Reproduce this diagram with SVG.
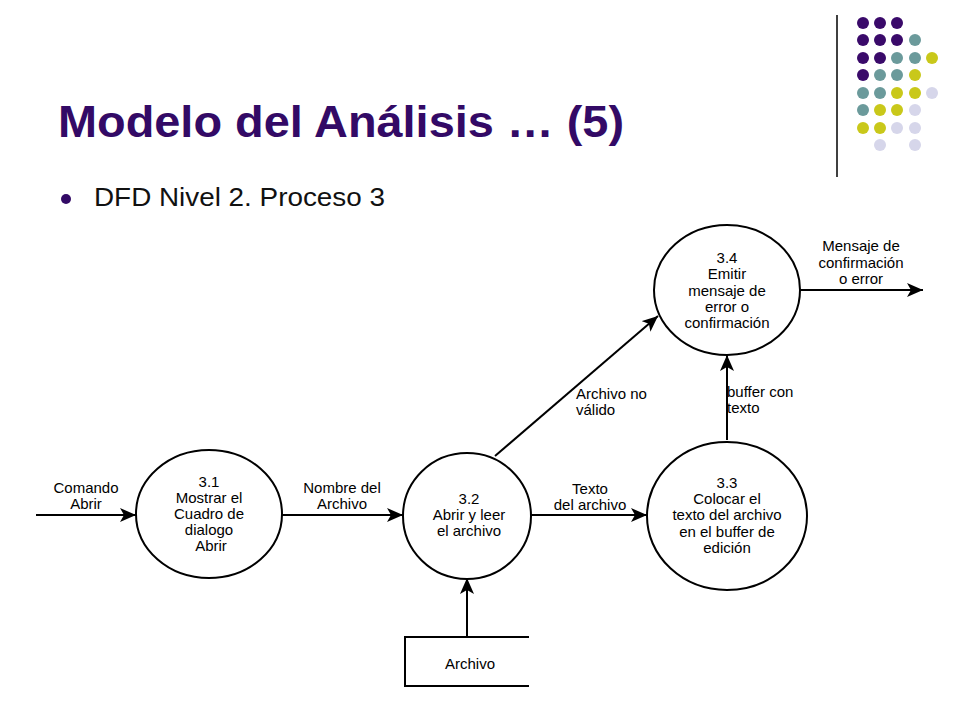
<svg xmlns="http://www.w3.org/2000/svg" width="960" height="720" viewBox="0 0 960 720">
<defs>
<style>
.t{font-family:'Liberation Sans',Arial,sans-serif;font-size:15px;fill:#000;text-anchor:middle}
.l{text-anchor:start}
.n{fill:#fff;stroke:#000;stroke-width:2}
.c{stroke:#000;stroke-width:2;fill:none}
.P{fill:#3a0a6a}.T{fill:#6b9a9b}.Y{fill:#c9c81a}.L{fill:#d6d6ea}
</style>
<marker id="a" viewBox="0 0 16 14" refX="16" refY="7" markerWidth="16" markerHeight="14" markerUnits="userSpaceOnUse" orient="auto">
<path d="M0,0 L16,7 L0,14 L4,7 Z" fill="#000"/>
</marker>
</defs>
<rect width="960" height="720" fill="#fff"/>
<g id="decor">
<line x1="837" y1="15" x2="837" y2="177" stroke="#000" stroke-width="1.5"/>
<g>
<circle class="P" cx="863" cy="23" r="6"/><circle class="P" cx="880" cy="23" r="6"/><circle class="P" cx="897" cy="23" r="6"/>
<circle class="P" cx="863" cy="40" r="6"/><circle class="P" cx="880" cy="40" r="6"/><circle class="P" cx="897" cy="40" r="6"/><circle class="T" cx="915" cy="40" r="6"/>
<circle class="P" cx="863" cy="58" r="6"/><circle class="P" cx="880" cy="58" r="6"/><circle class="T" cx="897" cy="58" r="6"/><circle class="T" cx="915" cy="58" r="6"/><circle class="Y" cx="932" cy="58" r="6"/>
<circle class="P" cx="863" cy="75" r="6"/><circle class="T" cx="880" cy="75" r="6"/><circle class="T" cx="897" cy="75" r="6"/><circle class="Y" cx="915" cy="75" r="6"/>
<circle class="T" cx="863" cy="93" r="6"/><circle class="T" cx="880" cy="93" r="6"/><circle class="Y" cx="897" cy="93" r="6"/><circle class="Y" cx="915" cy="93" r="6"/><circle class="L" cx="932" cy="93" r="6"/>
<circle class="T" cx="863" cy="110" r="6"/><circle class="Y" cx="880" cy="110" r="6"/><circle class="Y" cx="897" cy="110" r="6"/><circle class="L" cx="915" cy="110" r="6"/>
<circle class="Y" cx="863" cy="128" r="6"/><circle class="Y" cx="880" cy="128" r="6"/><circle class="L" cx="897" cy="128" r="6"/><circle class="L" cx="915" cy="128" r="6"/>
<circle class="L" cx="880" cy="145" r="6"/><circle class="L" cx="915" cy="145" r="6"/>
</g>
<text x="58" y="137" font-family="'Liberation Sans',Arial,sans-serif" font-size="44" font-weight="bold" fill="#330a66" textLength="566" lengthAdjust="spacingAndGlyphs">Modelo del Análisis … (5)</text>
<circle cx="66" cy="199" r="5" fill="#330a66"/>
<text x="94" y="206" font-family="'Liberation Sans',Arial,sans-serif" font-size="25" fill="#111" textLength="291" lengthAdjust="spacingAndGlyphs">DFD Nivel 2. Proceso 3</text>
</g>
<g id="connectors">
<line class="c" x1="36" y1="515" x2="136" y2="515" marker-end="url(#a)"/>
<line class="c" x1="282" y1="515" x2="403" y2="515" marker-end="url(#a)"/>
<line class="c" x1="531" y1="515" x2="647" y2="515" marker-end="url(#a)"/>
<line class="c" x1="495" y1="456" x2="658" y2="316" marker-end="url(#a)"/>
<line class="c" x1="727" y1="440" x2="727" y2="355" marker-end="url(#a)"/>
<line class="c" x1="800" y1="290" x2="923" y2="290" marker-end="url(#a)"/>
<line class="c" x1="467" y1="637" x2="467" y2="578" marker-end="url(#a)"/>
<text class="t" x="86" y="493">Comando</text><text class="t" x="86" y="509">Abrir</text>
<text class="t" x="342" y="493">Nombre del</text><text class="t" x="342" y="509">Archivo</text>
<text class="t" x="590" y="494">Texto</text><text class="t" x="590" y="510">del archivo</text>
<text class="t l" x="576" y="399">Archivo no</text><text class="t l" x="576" y="415">válido</text>
<text class="t l" x="727" y="397">buffer con</text><text class="t l" x="727" y="413">texto</text>
<text class="t" x="861" y="251">Mensaje de</text><text class="t" x="861" y="268">confirmación</text><text class="t" x="861" y="284">o error</text>
</g>
<g id="p31">
<ellipse class="n" cx="209" cy="514" rx="73" ry="64"/>
<text class="t" x="209" y="487">3.1</text><text class="t" x="209" y="503">Mostrar el</text><text class="t" x="209" y="519">Cuadro de</text><text class="t" x="209" y="535">dialogo</text><text class="t" x="211" y="551">Abrir</text>
</g>
<g id="p32">
<ellipse class="n" cx="467" cy="516" rx="64" ry="63"/>
<text class="t" x="469" y="504">3.2</text><text class="t" x="469" y="520">Abrir y leer</text><text class="t" x="469" y="536">el archivo</text>
</g>
<g id="p33">
<ellipse class="n" cx="727" cy="516" rx="80" ry="74"/>
<text class="t" x="727" y="488">3.3</text><text class="t" x="727" y="504">Colocar el</text><text class="t" x="727" y="520">texto del archivo</text><text class="t" x="727" y="537">en el buffer de</text><text class="t" x="727" y="553">edición</text>
</g>
<g id="p34">
<ellipse class="n" cx="727" cy="290" rx="73" ry="65"/>
<text class="t" x="727" y="263">3.4</text><text class="t" x="727" y="279">Emitir</text><text class="t" x="727" y="296">mensaje de</text><text class="t" x="727" y="312">error o</text><text class="t" x="727" y="328">confirmación</text>
</g>
<g id="archivo">
<path class="c" d="M529,637 H405 V686 H529"/>
<text class="t" x="470" y="669">Archivo</text>
</g>
</svg>
